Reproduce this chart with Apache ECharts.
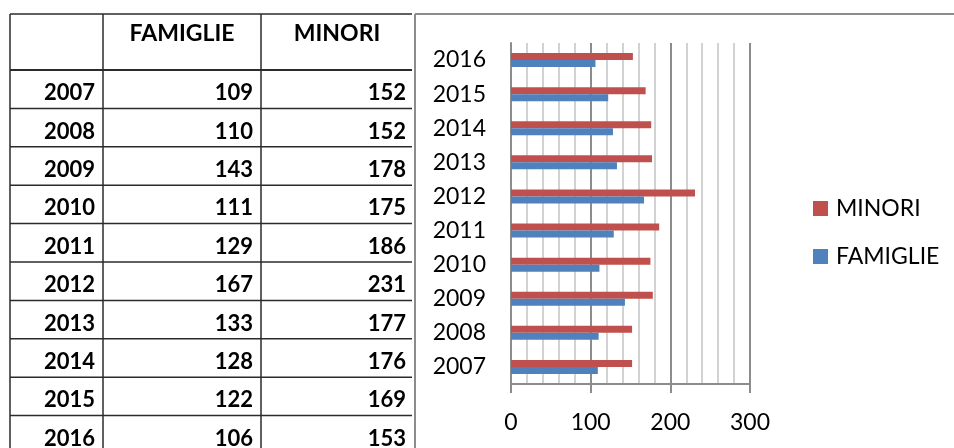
<!DOCTYPE html>
<html>
<head>
<meta charset="utf-8">
<script src="https://cdn.jsdelivr.net/npm/echarts@6/dist/echarts.min.js"></script>
<style>
html,body{margin:0;padding:0;background:#fff;}
#chart{width:954px;height:448px;}
</style>
</head>
<body>
<div id="chart"></div>
<script>
// ---- data ----
const years = ['2007','2008','2009','2010','2011','2012','2013','2014','2015','2016'];
const famiglie = [109,110,143,111,129,167,133,128,122,106];
const minori = [152,152,178,175,186,231,177,176,169,153];
const headers = ['FAMIGLIE','MINORI'];
const xTicks = [0,100,200,300];

const chart = echarts.init(document.getElementById('chart'), null, {renderer:'canvas'});

// ---- table drawn with graphic elements ----
const tLeft = 10, tRight = 412, tTop = 14, headBottom = 70, rowH = 38.4;
const colX = [10, 103, 261];
const lineColor = '#2b2b2b';
const g = [];
function hline(y, x1, x2, c, w){ g.push({type:'line', silent:true, shape:{x1:x1,y1:y,x2:x2,y2:y}, style:{stroke:c, lineWidth:w}}); }
function vline(x, y1, y2, c, w){ g.push({type:'line', silent:true, shape:{x1:x,y1:y1,x2:x,y2:y2}, style:{stroke:c, lineWidth:w}}); }
hline(tTop, tLeft, tRight, lineColor, 1.5);
hline(headBottom, tLeft, tRight, lineColor, 1.8);
for (let i = 1; i <= years.length; i++) hline(headBottom + rowH*i, tLeft, tRight, lineColor, 1.5);
colX.forEach(x => vline(x, tTop, 448, lineColor, 1.5));
const tFont = 'bold 22px Lato';
const hFont = 'bold 23px Lato';
g.push({type:'text', silent:true, style:{text:headers[0], x:182, y:34, font:hFont, fill:'#000', align:'center', verticalAlign:'middle'}});
g.push({type:'text', silent:true, style:{text:headers[1], x:337, y:34, font:hFont, fill:'#000', align:'center', verticalAlign:'middle'}});
years.forEach((yr, i) => {
  const cy = headBottom + rowH*i + rowH/2 + 4;
  g.push({type:'text', silent:true, style:{text:yr, x:95, y:cy, font:tFont, fill:'#000', align:'right', verticalAlign:'middle'}});
  g.push({type:'text', silent:true, style:{text:String(famiglie[i]), x:253, y:cy, font:tFont, fill:'#000', align:'right', verticalAlign:'middle'}});
  g.push({type:'text', silent:true, style:{text:String(minori[i]), x:406, y:cy, font:tFont, fill:'#000', align:'right', verticalAlign:'middle'}});
});
// chart frame
vline(415, 14, 448, '#8c8c8c', 2);
hline(14, 415, 954, '#8c8c8c', 2);

const option = {
  animation:false,
  textStyle:{fontFamily:'Lato'},
  graphic: g,
  legend:{
    orient:'vertical', left:808, top:192,
    itemWidth:15, itemHeight:15, itemGap:25,
    icon:'rect',
    data:['MINORI','FAMIGLIE'],
    textStyle:{fontFamily:'Lato', fontSize:23, color:'#000', padding:[0,0,0,3]}
  },
  grid:{left:511, right:204, top:43, bottom:64, containLabel:false},
  xAxis:{
    type:'value', min:xTicks[0], max:xTicks[xTicks.length-1], interval:100,
    axisLine:{show:true, lineStyle:{color:'#8c8c8c', width:2}},
    axisTick:{show:true, length:9, lineStyle:{color:'#8c8c8c', width:2}},
    minorTick:{show:false, splitNumber:5},
    splitLine:{show:true, lineStyle:{color:'#8c8c8c', width:2}},
    minorSplitLine:{show:true, lineStyle:{color:'#c4c4c4', width:1.5}},
    axisLabel:{fontFamily:'Lato', fontSize:23, color:'#000', margin:27}
  },
  yAxis:{
    type:'category', data:years,
    axisLine:{show:true, lineStyle:{color:'#8c8c8c', width:2}},
    axisTick:{show:false},
    axisLabel:{fontFamily:'Lato', fontSize:23, color:'#000', margin:25}
  },
  series:[
    {name:'MINORI', type:'bar', data:minori, barWidth:7, barGap:'0%', itemStyle:{color:'#C0504D'}},
    {name:'FAMIGLIE', type:'bar', data:famiglie, barWidth:7, barGap:'0%', itemStyle:{color:'#4F81BD'}}
  ]
};
chart.setOption(option);
</script>
</body>
</html>
